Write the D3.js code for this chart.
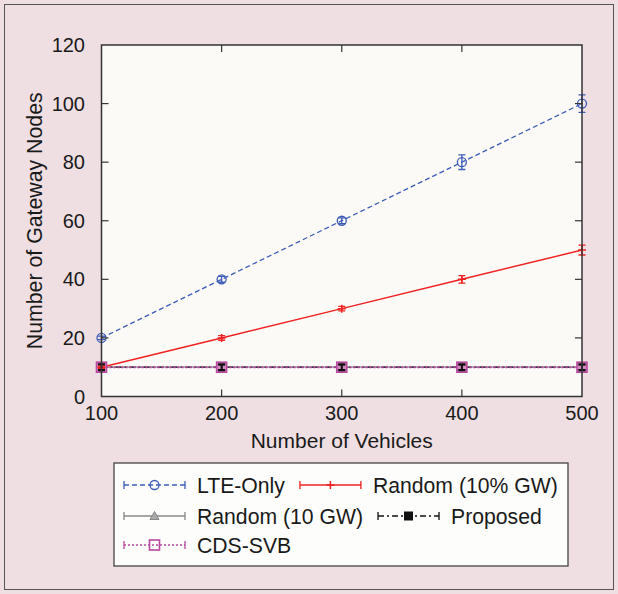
<!DOCTYPE html>
<html><head><meta charset="utf-8">
<script src="https://cdn.jsdelivr.net/npm/d3@7"></script>
<style>
html,body{margin:0;padding:0;background:#efdfe2;}
svg{display:block;font-family:"Liberation Sans",Arial,Helvetica,sans-serif;}
</style></head>
<body>
<svg id="chart" width="618" height="594"></svg>
<script>
const vehicles = [100, 200, 300, 400, 500];
const lteOnly = [20, 40, 60, 80, 100];
const lteErr = [0.6, 1.0, 1.0, 2.5, 3.0];
const random10pct = [10, 20, 30, 40, 50];
const random10pctErr = [0.4, 0.8, 0.8, 1.3, 1.7];
const random10gw = [10, 10, 10, 10, 10];
const random10gwErr = [0.8, 0.8, 0.8, 0.8, 0.8];
const proposed = [10, 10, 10, 10, 10];
const proposedErr = [1.0, 1.0, 1.0, 1.0, 1.0];
const cdsSvb = [10, 10, 10, 10, 10];
const cdsErr = [0.8, 0.8, 0.8, 0.8, 0.8];
const xTicks = [100, 200, 300, 400, 500];
const yTicks = [0, 20, 40, 60, 80, 100, 120];
const seriesNames = ["LTE-Only", "Random (10% GW)", "Random (10 GW)", "Proposed", "CDS-SVB"];

const svg = d3.select("#chart");
const W = 618, H = 594;
const L = 101.5, R = 582, T = 45, B = 396.5;

svg.append("rect").attr("x", 4.5).attr("y", 4.5).attr("width", W - 9).attr("height", H - 9)
  .attr("fill", "#efdfe2").attr("stroke", "#555").attr("stroke-width", 1);

const x = d3.scaleLinear().domain([100, 500]).range([L, R]);
const y = d3.scaleLinear().domain([0, 120]).range([B, T]);

svg.append("rect").attr("x", L).attr("y", T).attr("width", R - L).attr("height", B - T)
  .attr("fill", "#fbfaf6");

const styles = [
  {name: seriesNames[0], vals: lteOnly, err: lteErr, color: "#3d5cb8", dash: "5,3", width: 1.3, marker: "circle"},
  {name: seriesNames[1], vals: random10pct, err: random10pctErr, color: "#ee2222", dash: null, width: 1.5, marker: "plus"},
  {name: seriesNames[2], vals: random10gw, err: random10gwErr, color: "#888888", dash: null, width: 1.3, marker: "triangle"},
  {name: seriesNames[3], vals: proposed, err: proposedErr, color: "#111111", dash: "6,3,2,3", width: 1.3, marker: "fsquare"},
  {name: seriesNames[4], vals: cdsSvb, err: cdsErr, color: "#b8479e", dash: "2,2", width: 2, marker: "square"}
];

function drawMarker(g, type, cx, cy, color, legend) {
  if (type === "circle") {
    g.append("circle").attr("cx", cx).attr("cy", cy).attr("r", 4.5).attr("fill", "none").attr("stroke", color).attr("stroke-width", 1.3);
  } else if (type === "plus") {
    g.append("path").attr("d", `M${cx-4},${cy}H${cx+4}M${cx},${cy-4}V${cy+4}`).attr("stroke", color).attr("stroke-width", 1.5);
  } else if (type === "triangle") {
    g.append("path").attr("d", `M${cx},${cy-4.5}L${cx+4.5},${cy+3.5}L${cx-4.5},${cy+3.5}Z`).attr("fill", "#aaa").attr("stroke", color).attr("stroke-width", 1);
  } else if (type === "fsquare") {
    g.append("rect").attr("x", cx - 4.5).attr("y", cy - 4.5).attr("width", 9).attr("height", 9).attr("fill", color);
  } else if (type === "square") {
    g.append("rect").attr("x", cx - 5).attr("y", cy - 5).attr("width", 10).attr("height", 10)
      .attr("fill", legend ? "none" : "#d58cc4").attr("stroke", color).attr("stroke-width", 1.6);
  }
}

const plot = svg.append("g");
const line = d3.line().x((d, i) => x(vehicles[i])).y(d => y(d));
[2, 3, 4, 1, 0].forEach(k => {
  const s = styles[k];
  plot.append("path").attr("d", line(s.vals)).attr("fill", "none").attr("stroke", s.color)
    .attr("stroke-width", s.width).attr("stroke-dasharray", s.dash);
});
// markers
[2, 3, 4, 1, 0].forEach(k => {
  const s = styles[k];
  const g = plot.append("g");
  s.vals.forEach((v, i) => drawMarker(g, s.marker, x(vehicles[i]), y(v), s.color, false));
});
// error bars
[2, 4, 3, 1, 0].forEach(k => {
  const s = styles[k];
  const g = plot.append("g");
  s.vals.forEach((v, i) => {
    const cx = x(vehicles[i]);
    const y1 = y(v - s.err[i]), y2 = y(v + s.err[i]);
    const c = (k === 3 || k === 4) ? "#111" : s.color;
    g.append("path").attr("d", `M${cx},${y1}V${y2}M${cx-3.5},${y1}H${cx+3.5}M${cx-3.5},${y2}H${cx+3.5}`)
      .attr("stroke", c).attr("stroke-width", k === 3 ? 2 : 1.3).attr("fill", "none");
  });
});

const tk = svg.append("g").attr("stroke", "#333").attr("stroke-width", 1.2);
xTicks.forEach(t => {
  if (t === 100 || t === 500) return;
  tk.append("line").attr("x1", x(t)).attr("x2", x(t)).attr("y1", B).attr("y2", B - 7);
  tk.append("line").attr("x1", x(t)).attr("x2", x(t)).attr("y1", T).attr("y2", T + 7);
});
yTicks.forEach(t => {
  if (t === 0 || t === 120) return;
  tk.append("line").attr("x1", L).attr("x2", L + 7).attr("y1", y(t)).attr("y2", y(t));
  tk.append("line").attr("x1", R).attr("x2", R - 7).attr("y1", y(t)).attr("y2", y(t));
});
svg.append("rect").attr("x", L).attr("y", T).attr("width", R - L).attr("height", B - T)
  .attr("fill", "none").attr("stroke", "#333").attr("stroke-width", 1.5);

svg.append("g").selectAll("text").data(xTicks).join("text")
  .attr("x", d => x(d)).attr("y", 420).attr("text-anchor", "middle")
  .attr("font-size", 20).attr("fill", "#1a1a1a").text(d => d);
svg.append("g").selectAll("text").data(yTicks).join("text")
  .attr("x", 85).attr("y", d => y(d) + 7).attr("text-anchor", "end")
  .attr("font-size", 20).attr("fill", "#1a1a1a").text(d => d);

svg.append("text").attr("x", (L + R) / 2).attr("y", 448).attr("text-anchor", "middle")
  .attr("font-size", 21).attr("fill", "#1a1a1a").text("Number of Vehicles");
svg.append("text").attr("transform", `translate(42,${(T + B) / 2}) rotate(-90)`)
  .attr("text-anchor", "middle").attr("font-size", 21.3).attr("fill", "#1a1a1a").text("Number of Gateway Nodes");

svg.append("rect").attr("x", 114).attr("y", 463).attr("width", 454).attr("height", 103)
  .attr("fill", "#fdfdfb").attr("stroke", "#444").attr("stroke-width", 1.3);
const rows = [[0, 1], [2, 3], [4]];
const rowY = [485, 516, 545];
const lg = svg.append("g");
rows.forEach((row, r) => {
  let cx = 124;
  const cy = rowY[r];
  row.forEach(k => {
    const s = styles[k];
    const x1 = cx, x2 = cx + 61;
    lg.append("line").attr("x1", x1).attr("x2", x2).attr("y1", cy).attr("y2", cy)
      .attr("stroke", s.color).attr("stroke-width", k === 4 ? 1.5 : 1.3).attr("stroke-dasharray", s.dash);
    lg.append("path").attr("d", `M${x1},${cy-4}V${cy+4}M${x2},${cy-4}V${cy+4}`).attr("stroke", s.color).attr("stroke-width", 1.3);
    drawMarker(lg, s.marker, (x1 + x2) / 2, cy, s.color, true);
    const t = lg.append("text").attr("x", x2 + 12).attr("y", cy + 7.5).attr("font-size", 21.2)
      .attr("fill", "#1a1a1a").text(s.name);
    cx = x2 + 12 + t.node().getComputedTextLength() + 15;
  });
});
</script>
</body></html>
